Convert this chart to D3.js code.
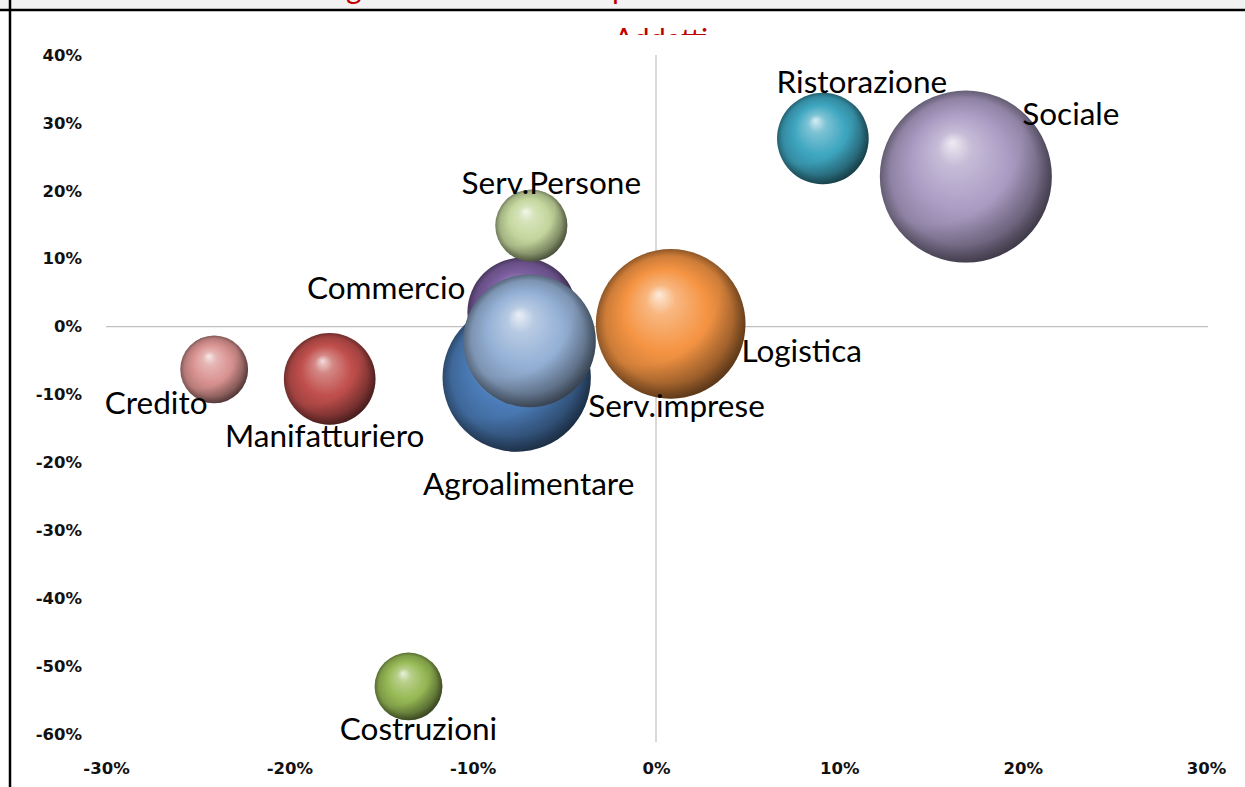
<!DOCTYPE html>
<html><head><meta charset="utf-8">
<script src="https://cdn.jsdelivr.net/npm/d3@7"></script>
<style>
html,body{margin:0;padding:0;background:#fff;}
svg{display:block;}
</style></head>
<body>
<svg id="c" width="1245" height="787"></svg>
<script>
// ---- data ----
const sectors = ["Sociale","Ristorazione","Logistica","Agroalimentare","Commercio","Serv.imprese","Serv.Persone","Credito","Manifatturiero","Costruzioni"];
const growthX = [0.169, 0.091, 0.008, -0.076, -0.073, -0.069, -0.068, -0.241, -0.178, -0.135];
const growthY = [0.221, 0.277, 0.004, -0.075, 0.021, -0.021, 0.149, -0.063, -0.077, -0.530];
const sizes   = [74, 21, 56, 55, 30, 44, 13, 11.5, 21, 11.5];
const xTicks = [-0.3,-0.2,-0.1,0,0.1,0.2,0.3];
const yTicks = [0.4,0.3,0.2,0.1,0,-0.1,-0.2,-0.3,-0.4,-0.5,-0.6];
const subtitle = "Addetti";

// ---- styling / layout (not data) ----
const colors = {"Sociale":"#ab9dc4","Ristorazione":"#3ea6c0","Logistica":"#f59443","Agroalimentare":"#4b7cb8",
  "Commercio":"#7c5fa0","Serv.imprese":"#95b1d6","Serv.Persone":"#c4d79d","Credito":"#d99391","Manifatturiero":"#c04f4c","Costruzioni":"#97b955"};
const labelOffset = {"Sociale":[105,-64],"Ristorazione":[39,-58],"Logistica":[131,26],"Agroalimentare":[12,105],
  "Commercio":[-136,-25],"Serv.imprese":[147,64],"Serv.Persone":[20,-43],"Credito":[-58,33],"Manifatturiero":[-5,56],"Costruzioni":[10,42]};

const svg = d3.select("#c");
const defs = svg.append("defs");

// frame
svg.append("rect").attr("x",0).attr("y",0).attr("width",1245).attr("height",9).attr("fill","#f2f2f2");
defs.append("clipPath").attr("id","topclip").append("rect").attr("x",0).attr("y",0).attr("width",1245).attr("height",8);
const tg = svg.append("g").attr("clip-path","url(#topclip)").attr("fill","#c00000")
  .style("font-family","Lato, 'Open Sans', sans-serif").style("font-size","30px");
tg.append("text").attr("x",346).attr("y",-1).text("g");
tg.append("text").attr("x",612).attr("y",-1).text("p");
svg.append("line").attr("x1",0).attr("x2",1245).attr("y1",10).attr("y2",10).attr("stroke","#000").attr("stroke-width",2.5);
svg.append("line").attr("x1",10).attr("x2",10).attr("y1",0).attr("y2",787).attr("stroke","#000").attr("stroke-width",2.5);

defs.append("clipPath").attr("id","subclip").append("rect").attr("x",0).attr("y",12).attr("width",1245).attr("height",23);
svg.append("text").attr("clip-path","url(#subclip)").attr("x",661).attr("y",49).attr("text-anchor","middle")
  .attr("fill","#c00000").style("font-family","Lato, 'Open Sans', sans-serif").style("font-size","29px").text(subtitle);

const x = d3.scaleLinear().domain([-0.3,0.3]).range([106,1206]);
const y = d3.scaleLinear().domain([-0.6,0.4]).range([734,55]);
const r = d3.scaleSqrt().domain([0,74]).range([0,86]);
const pct = d => Math.round(d*100) + "%";

// zero lines
svg.append("line").attr("x1",x(-0.3)).attr("x2",x(0.3)+2).attr("y1",y(0)).attr("y2",y(0)).attr("stroke","#c0c0c0").attr("stroke-width",1.2);
svg.append("line").attr("x1",x(0)).attr("x2",x(0)).attr("y1",y(0.4)).attr("y2",y(-0.6)+8).attr("stroke","#c0c0c0").attr("stroke-width",1.2);

// axes
const tickFont = "'DejaVu Sans', Verdana, sans-serif";
const ax = svg.append("g").attr("transform",`translate(0,${y(-0.6)})`)
  .call(d3.axisBottom(x).tickValues(xTicks).tickFormat(pct).tickSize(0).tickPadding(28));
const ay = svg.append("g").attr("transform",`translate(${x(-0.3)},0)`)
  .call(d3.axisLeft(y).tickValues(yTicks).tickFormat(pct).tickSize(0).tickPadding(24));
[ax,ay].forEach(a=>{
  a.select(".domain").remove();
  a.selectAll("text").attr("fill","#111").style("font-family",tickFont).style("font-size","16.5px").style("font-weight","bold");
});

// gradients
const data = sectors.map((s,i)=>({name:s, gx:growthX[i], gy:growthY[i], size:sizes[i]}));
data.forEach((d,i)=>{
  const c = d3.color(colors[d.name]);
  const g = defs.append("radialGradient").attr("id","g"+i).attr("cx","0.5").attr("cy","0.5").attr("r","0.5")
    .attr("fx","0.42").attr("fy","0.3");
  g.append("stop").attr("offset","0%").attr("stop-color", d3.interpolateRgb(c,"#fff")(0.8));
  g.append("stop").attr("offset","20%").attr("stop-color", d3.interpolateRgb(c,"#fff")(0.32));
  g.append("stop").attr("offset","55%").attr("stop-color", c.formatHex());
  g.append("stop").attr("offset","85%").attr("stop-color", c.darker(0.5).formatHex());
  g.append("stop").attr("offset","100%").attr("stop-color", c.darker(1.5).formatHex());
  const s = defs.append("radialGradient").attr("id","s"+i).attr("cx","0.3").attr("cy","0.25").attr("r","0.95");
  s.append("stop").attr("offset","55%").attr("stop-color","#000").attr("stop-opacity",0);
  s.append("stop").attr("offset","100%").attr("stop-color","#000").attr("stop-opacity",0.55);
});

const bub = svg.append("g");
data.forEach((d,i)=>{
  const cx = x(d.gx), cy = y(d.gy), rr = r(d.size);
  bub.append("circle").attr("cx",cx).attr("cy",cy).attr("r",rr).attr("fill",`url(#g${i})`);
  bub.append("circle").attr("cx",cx).attr("cy",cy).attr("r",rr).attr("fill",`url(#s${i})`);
});

// labels
const lab = svg.append("g").style("font-family","Lato, 'Open Sans', sans-serif").style("font-size","31.5px").attr("fill","#000");
data.forEach(d=>{
  const o = labelOffset[d.name];
  lab.append("text").attr("x",x(d.gx)+o[0]).attr("y",y(d.gy)+o[1]).attr("text-anchor","middle")
    .attr("dominant-baseline","central").text(d.name);
});
</script>
</body></html>
